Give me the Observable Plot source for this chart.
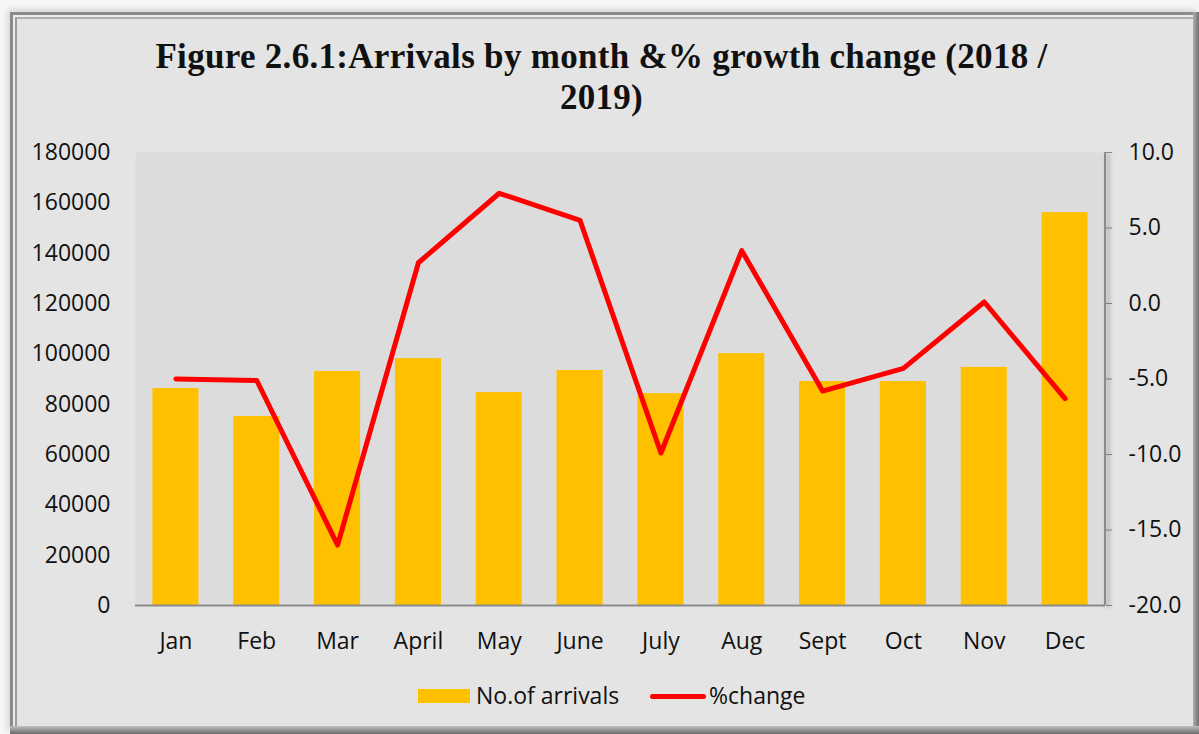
<!DOCTYPE html>
<html>
<head>
<meta charset="utf-8">
<script src="https://cdn.jsdelivr.net/npm/d3@7"></script>
<script src="https://cdn.jsdelivr.net/npm/@observablehq/plot@0.6"></script>
<style>
  html, body { margin: 0; padding: 0; background: #f4f4f4; }
  #page { position: relative; width: 1199px; height: 734px; overflow: hidden; background: #f6f6f6; }
  #outer { position: absolute; left: 10px; top: 12px; width: 1189px; height: 722px; box-sizing: border-box;
           border-left: 3px solid #8a8a8a; border-top: 3px solid #8a8a8a; background: #ececec;
           box-shadow: -3px -3px 6px rgba(0,0,0,0.12); }
  #inner { position: absolute; left: 15px; top: 17px; width: 1178px; height: 710px; box-sizing: border-box;
           border-left: 2px solid #9a9a9a; border-top: 2px solid #b0b0b0; background: #e4e4e4; }
  #rightedge { position: absolute; left: 1193px; top: 12px; width: 6px; height: 722px;
               background: linear-gradient(to right, #b0b0b0, #6f6f6f); }
  #bottomedge { position: absolute; left: 10px; top: 726px; width: 1189px; height: 8px;
               background: linear-gradient(to bottom, #c0c0c0, #6a6a6a); }
  #title { position: absolute; left: 0; top: 36px; width: 1199px; padding-left: 4px; box-sizing: border-box; text-align: center;
           font-family: "Liberation Serif", "DejaVu Serif", serif; font-weight: bold; font-size: 35px; letter-spacing: 0.3px; line-height: 41px; color: #111; }
  #chart { position: absolute; left: 0; top: 130px; }
  #legend { position: absolute; left: 0; top: 680px; width: 1199px; height: 30px;
            font-family: "Open Sans", "Liberation Sans", sans-serif; font-size: 23px; color: #111; }
  .lg { position: absolute; top: 0; line-height: 30px; white-space: nowrap; }
</style>
</head>
<body>
<div id="page">
  <div id="outer"></div>
  <div id="inner"></div>
  <div id="rightedge"></div>
  <div id="bottomedge"></div>
  <div id="title">Figure 2.6.1:Arrivals by month &amp;% growth change (2018 /<br>2019)</div>
  <div id="chart"></div>
  <div id="legend">
    <div class="lg" style="left:418px;top:9px;width:52px;height:14px;background:#FFC000;"></div>
    <div class="lg" style="left:476px;">No.of arrivals</div>
    <div class="lg" style="left:650px;top:14px;width:56px;height:5px;border-radius:2.5px;background:#FF0000;"></div>
    <div class="lg" style="left:709px;">%change</div>
  </div>
</div>
<script>
const months = ["Jan","Feb","Mar","April","May","June","July","Aug","Sept","Oct","Nov","Dec"];
const arrivals = [86200, 75100, 93000, 98100, 84600, 93400, 84200, 100100, 89000, 89000, 94600, 156100];
const pctChange = [-5.0, -5.1, -16.0, 2.7, 7.3, 5.5, -9.9, 3.5, -5.8, -4.3, 0.1, -6.3];
const leftTicks = [0,20000,40000,60000,80000,100000,120000,140000,160000,180000];
const rightTicks = [-20,-15,-10,-5,0,5,10];

const yMax = 180000, rMin = -20, rMax = 10;
const toLeft = p => (p - rMin) / (rMax - rMin) * yMax;
const fromLeft = v => v / yMax * (rMax - rMin) + rMin;

const barData = months.map((m, i) => ({month: m, value: arrivals[i]}));
const lineData = months.map((m, i) => ({month: m, pct: pctChange[i], y: toLeft(pctChange[i])}));

const plot = Plot.plot({
  width: 1199,
  height: 530,
  marginTop: 22,
  marginBottom: 55,
  marginLeft: 135,
  marginRight: 94,
  style: {background: "transparent", fontFamily: "'Open Sans', 'Liberation Sans', sans-serif", fontSize: "23px", color: "#111"},
  x: {domain: months, paddingInner: 0.43, paddingOuter: 0.215, round: false, label: null},
  y: {domain: [0, yMax], label: null},
  marks: [
    Plot.frame({fill: "#dcdcdc", stroke: null}),
    Plot.barY(barData, {x: "month", y: "value", fill: "#FFC000"}),
    Plot.lineY(lineData, {x: "month", y: "y", stroke: "#FF0000", strokeWidth: 5, strokeLinejoin: "round", strokeLinecap: "round"}),
    Plot.ruleY([0], {stroke: "#8c8c8c", strokeWidth: 2}),
    Plot.axisY({anchor: "left", ticks: leftTicks, tickSize: 0, tickPadding: 25, tickFormat: d => String(d), fontSize: 23}),
    Plot.axisY({anchor: "right", ticks: rightTicks.map(toLeft), tickSize: 6, tickPadding: 17, stroke: "#8c8c8c",
                tickFormat: v => d3.format(".1f")(fromLeft(v)).replace("−","-"), fontSize: 23}),
    Plot.axisX({tickSize: 0, tickPadding: 27, fontSize: 23})
  ]
});
const svg = d3.select(plot);
svg.append("line")
  .attr("x1", 1199 - 94).attr("x2", 1199 - 94)
  .attr("y1", 22).attr("y2", 530 - 55)
  .attr("stroke", "#8c8c8c").attr("stroke-width", 2)
  .style("filter", "drop-shadow(3px 2px 2px rgba(0,0,0,0.35))");
document.getElementById("chart").appendChild(plot);
</script>
</body>
</html>
